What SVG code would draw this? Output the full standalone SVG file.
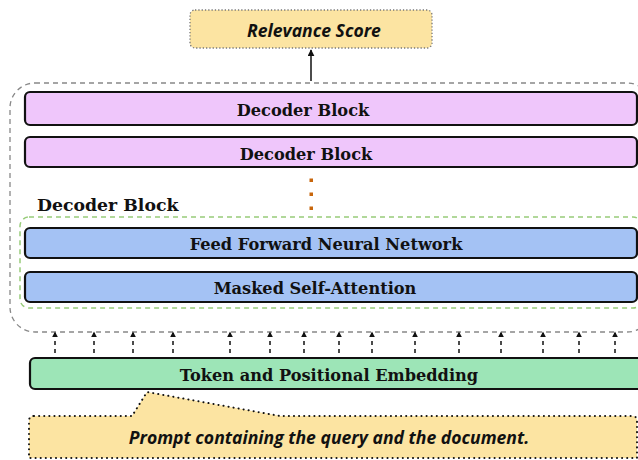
<svg xmlns="http://www.w3.org/2000/svg" width="638" height="460" viewBox="0 0 638 460">
<defs>
<marker id="ah" viewBox="0 0 10 10" refX="9" refY="5" markerWidth="7" markerHeight="7" orient="auto" markerUnits="userSpaceOnUse">
<path d="M0,0 L10,5 L0,10 z" fill="#111"/>
</marker>
<marker id="ahs" viewBox="0 0 10 10" refX="9" refY="5" markerWidth="6" markerHeight="6" orient="auto" markerUnits="userSpaceOnUse">
<path d="M0,0 L10,5 L0,10 z" fill="#111"/>
</marker>
</defs>
<style>
.blk{stroke:#111;stroke-width:2.2}
.pink{fill:#EFC6FB}
.blue{fill:#A4C2F4}
.mint{fill:#9DE5B7}
.yel{fill:#FCE4A2}
.st{font-family:"DejaVu Serif","Liberation Serif",serif;font-weight:bold;font-size:16.2px;fill:#111;text-anchor:middle;dominant-baseline:central}
.it{font-family:"Open Sans",Lato,"Liberation Sans",sans-serif;font-weight:bold;font-style:italic;font-size:17.6px;fill:#111;text-anchor:middle;dominant-baseline:central}
.up{stroke:#111;stroke-width:1.5;stroke-dasharray:4,4;fill:none}
</style>
<rect width="638" height="460" fill="#fff"/>

<g id="outer-container">
<rect x="10" y="83" width="642" height="249" rx="25" fill="none" stroke="#888" stroke-width="1.3" stroke-dasharray="5,4"/>
</g>

<g id="relevance-score">
<rect x="190" y="10" width="242" height="38" rx="5" class="yel" stroke="#777" stroke-width="1.3" stroke-dasharray="1.3,2"/>
<text x="314" y="29.5" class="it">Relevance Score</text>
</g>

<g id="decoder-block-1">
<rect x="25" y="92" width="612" height="33" rx="5" class="pink blk"/>
<text x="303" y="110" class="st">Decoder Block</text>
</g>

<g id="decoder-block-2">
<rect x="25" y="137" width="612" height="30" rx="5" class="pink blk"/>
<text x="306" y="154" class="st">Decoder Block</text>
</g>

<g id="ellipsis">
<rect x="309.5" y="178.5" width="3.5" height="3.5" fill="#C8660C"/>
<rect x="309.5" y="192.5" width="3.5" height="3.5" fill="#C8660C"/>
<rect x="309.5" y="206.5" width="3.5" height="3.5" fill="#C8660C"/>
</g>

<g id="decoder-block-detail">
<text x="37" y="205" font-family="DejaVu Serif, Liberation Serif, serif" font-weight="bold" font-size="17.3" fill="#111" dominant-baseline="central">Decoder Block</text>
<rect x="20" y="217" width="622" height="91" rx="9" fill="none" stroke="#98CC7A" stroke-width="1.5" stroke-dasharray="5,4"/>
</g>

<g id="feed-forward">
<rect x="25" y="228" width="612" height="30" rx="5" class="blue blk"/>
<text x="326" y="244" class="st">Feed Forward Neural Network</text>
</g>

<g id="masked-self-attention">
<rect x="25" y="272" width="612" height="30" rx="5" class="blue blk"/>
<text x="315" y="288.5" class="st">Masked Self-Attention</text>
</g>

<g id="embedding">
<rect x="30" y="358" width="620" height="31" rx="5" class="mint blk"/>
<text x="329" y="375.5" class="st">Token and Positional Embedding</text>
</g>

<g id="prompt">
<path d="M34,416 L132,416 L147,392 L280,416 L632,416 Q637,416 637,421 L637,458 L29,458 L29,421 Q29,416 34,416 z" class="yel" stroke="#111" stroke-width="2" stroke-dasharray="0.1,5" stroke-linecap="round"/>
<text x="329" y="437" class="it">Prompt containing the query and the document.</text>
</g>

<g id="connectors">
<line x1="311" y1="81" x2="311" y2="50" stroke="#111" stroke-width="1.5" marker-end="url(#ah)"/>
<line x1="55" y1="353" x2="55" y2="332" class="up" marker-end="url(#ahs)"/>
<line x1="94" y1="353" x2="94" y2="332" class="up" marker-end="url(#ahs)"/>
<line x1="133" y1="353" x2="133" y2="332" class="up" marker-end="url(#ahs)"/>
<line x1="173" y1="353" x2="173" y2="332" class="up" marker-end="url(#ahs)"/>
<line x1="230" y1="353" x2="230" y2="332" class="up" marker-end="url(#ahs)"/>
<line x1="270" y1="353" x2="270" y2="332" class="up" marker-end="url(#ahs)"/>
<line x1="304" y1="353" x2="304" y2="332" class="up" marker-end="url(#ahs)"/>
<line x1="339" y1="353" x2="339" y2="332" class="up" marker-end="url(#ahs)"/>
<line x1="372" y1="353" x2="372" y2="332" class="up" marker-end="url(#ahs)"/>
<line x1="415" y1="353" x2="415" y2="332" class="up" marker-end="url(#ahs)"/>
<line x1="459" y1="353" x2="459" y2="332" class="up" marker-end="url(#ahs)"/>
<line x1="501" y1="353" x2="501" y2="332" class="up" marker-end="url(#ahs)"/>
<line x1="543" y1="353" x2="543" y2="332" class="up" marker-end="url(#ahs)"/>
<line x1="579" y1="353" x2="579" y2="332" class="up" marker-end="url(#ahs)"/>
<line x1="615" y1="353" x2="615" y2="332" class="up" marker-end="url(#ahs)"/>
</g>
</svg>
